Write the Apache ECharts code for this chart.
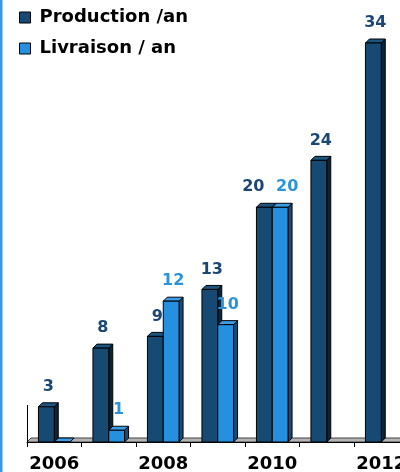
<!DOCTYPE html>
<html>
<head>
<meta charset="utf-8">
<script src="https://cdn.jsdelivr.net/npm/echarts@6/dist/echarts.min.js"></script>
<style>
  html, body { margin: 0; padding: 0; background: #fff; }
  #chart { width: 400px; height: 472px; }
</style>
</head>
<body>
<div id="chart"></div>
<script>
var years = ['2006', '2007', '2008', '2009', '2010', '2011', '2012'];
var production = [3, 8, 9, 13, 20, 24, 34];
var livraison = [0, 1, 12, 10, 20, null, null];

var FONT = '"DejaVu Sans", Verdana, sans-serif';
var DEPTH = 4;

// colours: front, side, top, label
var prodCol = { front: '#164a72', side: '#0b2438', top: '#1a5680', label: '#1b4777' };
var livCol = { front: '#2590e0', side: '#164d78', top: '#3a9de6', label: '#2b93dc' };

// other series' value in the same year, to push labels apart when they'd collide
function partner(onLeft, i) {
    var v = onLeft ? livraison[i] : production[i];
    return v === null ? null : v;
}

function bar3d(col, onLeft) {
    return function (params, api) {
        var i = api.value(0), v = api.value(1);
        var base = api.coord([i, 0]);
        var top = api.coord([i, v]);
        var w = api.size([1, 0])[0] * 0.29;
        var x0 = onLeft ? base[0] - w : base[0];
        var x1 = x0 + w;
        var yt = top[1], yb = base[1];
        var line = { stroke: '#000', lineWidth: 1 };
        var kids = [
            { type: 'polygon', shape: { points: [[x1, yt], [x1 + DEPTH, yt - DEPTH], [x1 + DEPTH, yb - DEPTH], [x1, yb]] },
              style: Object.assign({ fill: col.side }, line) },
            { type: 'polygon', shape: { points: [[x0, yt], [x0 + DEPTH, yt - DEPTH], [x1 + DEPTH, yt - DEPTH], [x1, yt]] },
              style: Object.assign({ fill: col.top }, line) },
            { type: 'rect', shape: { x: x0, y: yt, width: w, height: yb - yt },
              style: Object.assign({ fill: col.front }, line) }
        ];
        if (v > 0) {
            var lx = x0 + w / 2 + 2;
            var other = partner(onLeft, i);
            if (other !== null && Math.abs(other - v) < 2) lx += onLeft ? -13 : 5;
            kids.push({ type: 'text', x: lx, y: yt - 20,
                style: { text: String(v), fill: col.label, font: 'bold 16px ' + FONT, align: 'center', verticalAlign: 'middle' } });
        }
        return { type: 'group', children: kids };
    };
}

var prodData = production.map(function (v, i) { return [i, v]; });
var livData = [];
livraison.forEach(function (v, i) { if (v !== null) livData.push([i, v]); });

var chart = echarts.init(document.getElementById('chart'));
chart.setOption({
    animation: false,
    backgroundColor: '#fff',
    grid: { left: 27, right: -8.5, top: 43, bottom: 30, outerBoundsMode: 'none', containLabel: false },
    legend: {
        orient: 'vertical',
        left: 19,
        top: 8,
        padding: 0,
        itemWidth: 11,
        itemHeight: 11,
        itemGap: 12,
        icon: 'rect',
        textStyle: { fontFamily: FONT, fontWeight: 'bold', fontSize: 18, color: '#000', lineHeight: 19, padding: [0, 0, 0, 4] },
        data: [
            { name: 'Production /an', itemStyle: { color: prodCol.front, borderColor: '#000', borderWidth: 1 } },
            { name: 'Livraison / an', itemStyle: { color: livCol.front, borderColor: '#000', borderWidth: 1 } }
        ]
    },
    xAxis: {
        type: 'category',
        data: years,
        boundaryGap: true,
        axisLine: { lineStyle: { color: '#000', width: 1 } },
        axisTick: { show: true, interval: 0, length: 5, lineStyle: { color: '#000' } },
        axisLabel: { interval: 1, margin: 13, color: '#000', fontFamily: FONT, fontWeight: 'bold', fontSize: 18 },
        z: 3
    },
    yAxis: {
        type: 'value',
        min: 0,
        max: 34,
        show: false
    },
    graphic: [
        { type: 'rect', left: 0, top: 0, shape: { width: 2.5, height: 472 }, style: { fill: '#3399e6' }, z: 10 },
        { type: 'polygon', shape: { points: [[27, 442], [31, 438], [412.5, 438], [408.5, 442]] },
          style: { fill: '#b4b4b4', stroke: '#444', lineWidth: 1 }, z: 0 },
        { type: 'line', shape: { x1: 27.5, y1: 405, x2: 27.5, y2: 442 }, style: { stroke: '#000', lineWidth: 1 }, z: 0 }
    ],
    series: [
        { name: 'Production /an', type: 'custom', renderItem: bar3d(prodCol, true), data: prodData,
          itemStyle: { color: prodCol.front }, encode: { x: 0, y: 1 }, z: 2 },
        { name: 'Livraison / an', type: 'custom', renderItem: bar3d(livCol, false), data: livData,
          itemStyle: { color: livCol.front }, encode: { x: 0, y: 1 }, z: 2 }
    ]
});
</script>
</body>
</html>
